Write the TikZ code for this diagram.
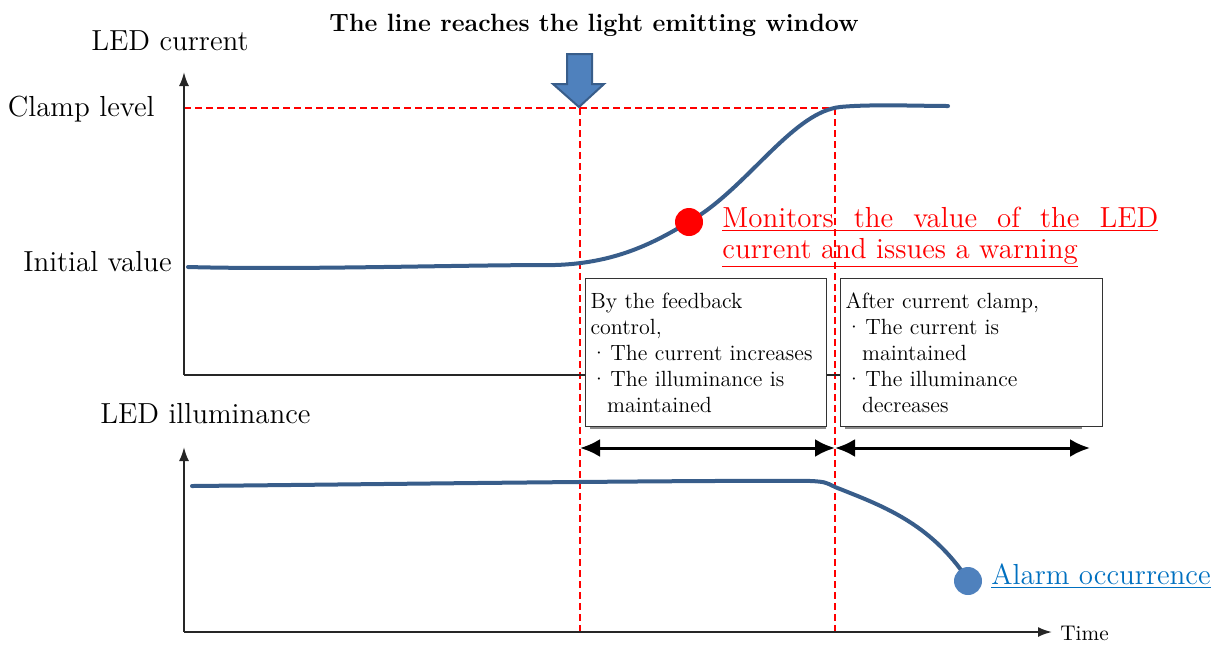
\documentclass[tikz,border=0pt]{standalone}
\usetikzlibrary{arrows.meta}
\definecolor{curveblue}{HTML}{385D8A}
\definecolor{dotblue}{HTML}{4F81BD}
\definecolor{linkblue}{HTML}{0070C0}
\definecolor{warnred}{HTML}{FF0000}
\newcommand{\bul}{\textperiodcentered\kern1.5pt}
\newcommand{\cont}{\hspace*{0.75em}}
\begin{document}
\begin{tikzpicture}[x=0.5pt,y=-0.5pt,
  lbl/.style={inner sep=0pt,font=\fontsize{14.5}{17}\selectfont},
  axis/.style={line width=1pt,black!85,-{Latex[length=7pt,width=5pt]}},
  guide/.style={warnred,line width=0.6pt,dash pattern=on 3.5pt off 2pt},
  trace/.style={curveblue,line width=2pt,line cap=round},
  span/.style={line width=1.5pt,{Latex[length=10pt,width=9pt]}-{Latex[length=10pt,width=9pt]}},
  notebox/.style={draw=black!80,fill=white,line width=0.6pt,anchor=north west,
    minimum width=120.5pt,minimum height=74pt,inner xsep=2.5pt,
    text width=115.5pt,align=left,font=\fontsize{11}{13}\selectfont},
  shadowline/.style={black!45,line width=1pt},
  dot/.style={circle,inner sep=0pt,minimum size=14pt}]
\useasboundingbox (0,0) rectangle (1224,644);

% key points of the two charts
\coordinate (o1) at (184,375);
\coordinate (t1) at (184,72);
\coordinate (o2) at (184,632);
\coordinate (t2) at (184,447);
\coordinate (x2) at (1052,632);
\coordinate (x1) at (1050,375);
\coordinate (clampL) at (184,108);
\coordinate (clampR) at (835,108);
\coordinate (g1top) at (580,108);
\coordinate (g1bot) at (580,632);
\coordinate (g2bot) at (835,632);

% red guide lines
\draw[guide] (clampL) -- (clampR);
\draw[guide] (g1top) -- (g1bot);
\draw[guide] (clampR) -- (g2bot);

% axes
\draw[axis] (o1) -- (t1);
\draw[line width=1pt,black!85] (o1) -- (x1);
\draw[axis] (o2) -- (t2);
\draw[axis] (o2) -- (x2);

% LED current trace
\draw[trace] (188,267) .. controls (300,270) and (450,265) .. (555,265)
  .. controls (620,263) and (660,240) .. (700,215)
  .. controls (752,180) and (795,112) .. (840,107)
  .. controls (870,104) and (920,106) .. (948,106);

% LED illuminance trace
\draw[trace] (192,486) .. controls (400,484) and (700,480) .. (812,481)
  .. controls (825,482) .. (835,487)
  .. controls (880,505) and (930,522) .. (968,580);

% markers
\node[dot,fill=warnred] (warn) at (689,222) {};
\node[dot,fill=dotblue] (alarm) at (968,581) {};

% axis labels
\node[lbl,anchor=base] (ycur) at (170,50) {LED current};
\node[lbl,anchor=base east] (clamp) at (155,116) {Clamp level};
\node[lbl,anchor=base east] (init) at (172,271) {Initial value};
\node[lbl,anchor=base west] (yill) at (100,423) {LED illuminance};
\node[inner sep=0pt,anchor=base west,font=\fontsize{10.6}{12}\selectfont] (time) at (1060,640) {Time};

% title and block arrow
\node[inner sep=0pt,anchor=base,font=\fontsize{12.5}{14}\selectfont\bfseries] (title) at (594,31)
  {The line reaches the light emitting window};
\draw[fill=dotblue,draw=curveblue,line width=1pt,line join=miter]
  (567,54) -- (592,54) -- (592,84) -- (604,84) -- (579,107) -- (553,84) -- (567,84) -- cycle;

% warning and alarm texts
\node[lbl,anchor=base west,text=warnred] (warn1) at (722,227)
  {\underline{\makebox[218pt][s]{Monitors the value of the LED}}};
\node[lbl,anchor=base west,text=warnred] (warn2) at (722,258)
  {\underline{current and issues a warning}};
\node[lbl,anchor=base west,text=linkblue] (alarmtxt) at (991,584)
  {\underline{Alarm occurrence}};

% explanation boxes
\draw[shadowline] (590,428) -- (826,428);
\draw[shadowline] (845,428) -- (1082,428);
\node[notebox] (box1) at (585,278)
  {By the feedback\\control,\\
   \bul The current increases\\
   \bul The illuminance is\\
   \cont maintained};
\node[notebox,minimum width=131pt,text width=126pt] (box2) at (840,278)
  {After current clamp,\\
   \bul The current is\\
   \cont maintained\\
   \bul The illuminance\\
   \cont decreases};

% phase spans
\coordinate (s1) at (580,448);
\coordinate (s2) at (835,448);
\coordinate (s3) at (1090,448);
\draw[span] (s1) -- (s2);
\draw[span] (s2) -- (s3);
\end{tikzpicture}
\end{document}
